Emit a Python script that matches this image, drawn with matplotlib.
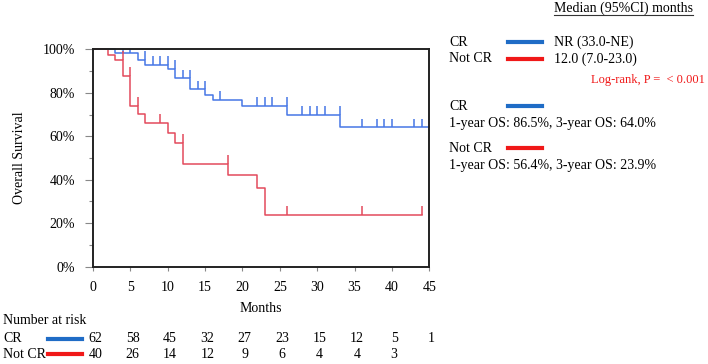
"""Kaplan-Meier overall survival, CR vs Not CR, with a number-at-risk table."""

import numpy as np
import matplotlib.pyplot as plt
from matplotlib.lines import Line2D
from matplotlib.ticker import MultipleLocator, FuncFormatter
from matplotlib import transforms

plt.rcParams["font.family"] = ["Liberation Serif", "DejaVu Serif"]

# step curves (months, % surviving)
cr_time = [0, 3, 6, 7, 10, 11, 13, 15, 16, 20, 26, 33, 45]
cr_surv = [100, 98.4, 95.1, 92.8, 91.0, 86.7, 81.6, 79.0, 76.8, 74.0, 70.0, 64.1, 64.1]
cr_censor = [4, 5, 7, 8, 9, 10, 11, 12, 13, 14, 15, 17, 22, 23, 24, 26, 28, 29, 30, 31,
             33, 36, 38, 39, 40, 43, 44]

ncr_time = [0, 2, 3, 4, 5, 6, 7, 10, 11, 12, 18, 22, 23, 44]
ncr_surv = [100, 97.5, 95.0, 87.7, 74.0, 70.2, 66.3, 61.3, 57.1, 47.2, 42.2, 36.4, 24.0, 24.0]
ncr_censor = [4, 5, 6, 9, 12, 18, 26, 36, 44]

risk_times = [0, 5, 10, 15, 20, 25, 30, 35, 40, 45]
cr_risk = [62, 58, 45, 32, 27, 23, 15, 12, 5, 1]
ncr_risk = [40, 26, 14, 12, 9, 6, 4, 4, 3]

curve_blue = "#4677e6"
curve_red = "#e34a5c"
leg_blue = "#1f6cc6"
leg_red = "#f01818"

W, H = 708, 364
fig = plt.figure(figsize=(W / 100, H / 100), dpi=100)
ax = fig.add_axes([93 / W, 1 - 266.7 / H, 336.3 / W, 217.4 / H])


def px(x, y):
    return x / W, 1 - y / H


def draw_km(times, surv, censor, color):
    ax.step(times, surv, where="post", color=color, lw=1.1, clip_on=False)
    t = np.asarray(times)
    s = np.asarray(surv)
    idx = np.searchsorted(t, censor, side="left") - 1
    idx = np.clip(idx, 0, len(s) - 1)
    base = s[idx]
    ax.vlines(censor, base, base + 4, color=color, lw=1.1)


draw_km(cr_time, cr_surv, cr_censor, curve_blue)
draw_km(ncr_time, ncr_surv, ncr_censor, curve_red)

ax.set_xlim(0, 45)
ax.set_ylim(0, 100)
ax.xaxis.set_major_locator(MultipleLocator(5))
ax.yaxis.set_major_locator(MultipleLocator(20))
ax.yaxis.set_minor_locator(MultipleLocator(10))
ax.yaxis.set_major_formatter(FuncFormatter(lambda v, p: f"{v:.0f}%"))
for sp in ax.spines.values():
    sp.set_color("#222222")
    sp.set_linewidth(1.4)
ax.tick_params(axis="y", which="major", length=6, width=0.8, color="#888888",
               pad=7, labelsize=10)
ax.tick_params(axis="y", which="minor", length=3, width=0.8, color="#888888")
ax.tick_params(axis="x", length=3, width=0.8, color="#888888", pad=7, labelsize=10)

fig.text(*px(20, 158), "Overall Survival", rotation=90, ha="center", va="center",
         fontsize=10)
fig.text(*px(261, 308), "Months", ha="center", va="center", fontsize=10)

# number at risk table
fig.text(*px(3, 320), "Number at risk", ha="left", va="center", fontsize=10)
tr = transforms.blended_transform_factory(ax.transData, fig.transFigure)
for label, counts, color, y in [("CR", cr_risk, leg_blue, 339),
                                ("Not CR", ncr_risk, leg_red, 354)]:
    fig.text(*px(3, y), label, ha="left", va="center", fontsize=10)
    fig.add_artist(Line2D([48 / W, 82 / W], [1 - y / H] * 2, color=color, lw=3))
    for t, n in zip(risk_times, counts):
        ax.text(t + 0.3, 1 - y / H, str(n), transform=tr, ha="center", va="center",
                fontsize=10)

# right-hand legend
fig.text(*px(554, 8), "Median (95%CI) months", ha="left", va="center", fontsize=10)
fig.add_artist(Line2D([554 / W, 693 / W], [1 - 15 / H] * 2, color="#333333", lw=0.8))

fig.text(*px(449, 42), "CR", ha="left", va="center", fontsize=10)
fig.add_artist(Line2D([508 / W, 542 / W], [1 - 42 / H] * 2, color=leg_blue, lw=3))
fig.text(*px(554, 42), "NR (33.0-NE)", ha="left", va="center", fontsize=10)
fig.text(*px(449, 59), "Not CR", ha="left", va="center", fontsize=10)
fig.add_artist(Line2D([508 / W, 542 / W], [1 - 59 / H] * 2, color=leg_red, lw=3))
fig.text(*px(554, 59), "12.0 (7.0-23.0)", ha="left", va="center", fontsize=10)
fig.text(*px(705, 80), "Log-rank, P =  < 0.001", ha="right", va="center",
         fontsize=9, color=leg_red)

fig.text(*px(449, 107), "CR", ha="left", va="center", fontsize=10)
fig.add_artist(Line2D([508 / W, 542 / W], [1 - 106 / H] * 2, color=leg_blue, lw=3))
fig.text(*px(449, 124), "1-year OS: 86.5%, 3-year OS: 64.0%", ha="left",
         va="center", fontsize=10)
fig.text(*px(449, 149), "Not CR", ha="left", va="center", fontsize=10)
fig.add_artist(Line2D([508 / W, 542 / W], [1 - 148 / H] * 2, color=leg_red, lw=3))
fig.text(*px(449, 166), "1-year OS: 56.4%, 3-year OS: 23.9%", ha="left",
         va="center", fontsize=10)

fig.savefig("out.png", dpi=100)
